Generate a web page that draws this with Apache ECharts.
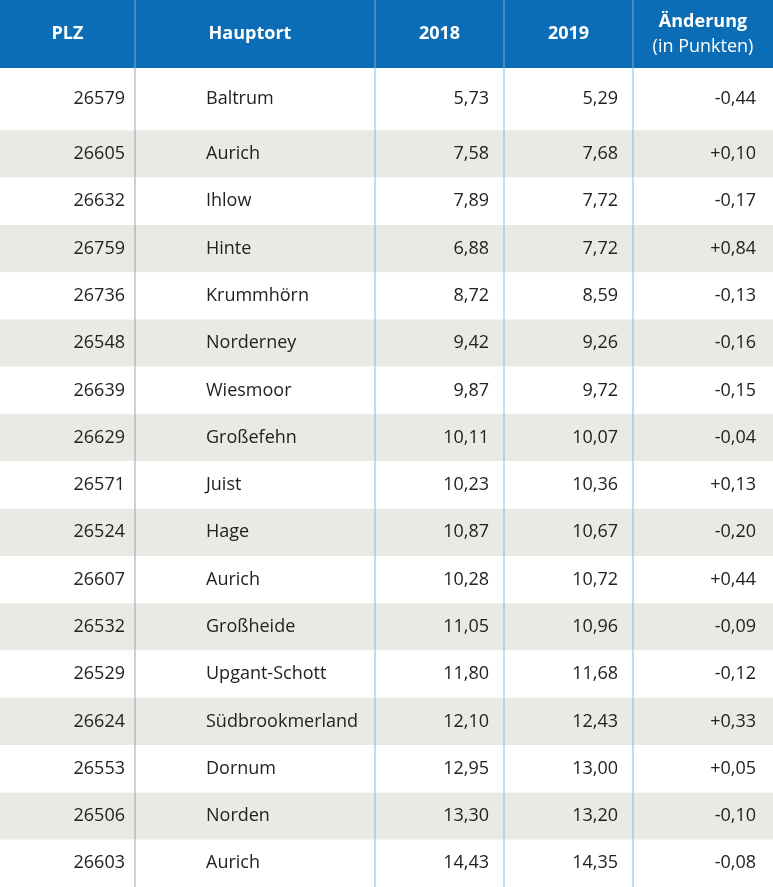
<!DOCTYPE html>
<html>
<head>
<meta charset="utf-8" />
<title>PLZ Tabelle</title>
<script src="https://cdn.jsdelivr.net/npm/echarts@6/dist/echarts.min.js"></script>
<style>
  html, body { margin: 0; padding: 0; background: #fff; }
  #main { width: 773px; height: 887px; }
</style>
</head>
<body>
<div id="main"></div>
<script>
var headers = ['PLZ', 'Hauptort', '2018', '2019', 'Änderung\n(in Punkten)'];
var plz = ['26579','26605','26632','26759','26736','26548','26639','26629','26571','26524','26607','26532','26529','26624','26553','26506','26603'];
var orte = ['Baltrum','Aurich','Ihlow','Hinte','Krummhörn','Norderney','Wiesmoor','Großefehn','Juist','Hage','Aurich','Großheide','Upgant-Schott','Südbrookmerland','Dornum','Norden','Aurich'];
var werte2018 = ['5,73','7,58','7,89','6,88','8,72','9,42','9,87','10,11','10,23','10,87','10,28','11,05','11,80','12,10','12,95','13,30','14,43'];
var werte2019 = ['5,29','7,68','7,72','7,72','8,59','9,26','9,72','10,07','10,36','10,67','10,72','10,96','11,68','12,43','13,00','13,20','14,35'];
var aenderung = ['-0,44','+0,10','-0,17','+0,84','-0,13','-0,16','-0,15','-0,04','+0,13','-0,20','+0,44','-0,09','-0,12','+0,33','+0,05','-0,10','-0,08'];

// Spaltengrenzen
var cols = [0, 135, 375, 504, 633, 773];
var headerH = 68;
var font = '"Open Sans", "Noto Sans", sans-serif';

var chart = echarts.init(document.getElementById('main'));

var rows = plz.map(function (p, i) { return i; });

var headerGraphics = [{
  type: 'rect', shape: { x: 0, y: 0, width: 773, height: headerH },
  style: { fill: '#0a6db5' }
}];
for (var c = 1; c < 5; c++) {
  headerGraphics.push({
    type: 'line', shape: { x1: cols[c], y1: 0, x2: cols[c], y2: headerH },
    style: { stroke: 'rgba(255,255,255,0.45)', lineWidth: 1 }
  });
}
headers.forEach(function (h, c) {
  var two = h.indexOf('\n') >= 0;
  headerGraphics.push({
    type: 'text',
    x: (cols[c] + cols[c + 1]) / 2 + (c === 1 ? -5 : 0), y: headerH / 2,
    style: {
      text: h, fill: '#fff', font: (two ? '' : 'bold ') + '18px ' + font,
      align: 'center', verticalAlign: 'middle', lineHeight: 25,
      rich: {}
    }
  });
});
// "Änderung" fett, zweite Zeile normal
headerGraphics[headerGraphics.length - 1].style = {
  text: '{b|Änderung}\n{n|(in Punkten)}', fill: '#fff',
  align: 'center', verticalAlign: 'middle',
  rich: {
    b: { fontFamily: font, fontWeight: 'bold', fontSize: 18, color: '#fff', lineHeight: 25 },
    n: { fontFamily: font, fontSize: 18, color: '#fff', lineHeight: 25 }
  }
};

var option = {
  animation: false,
  grid: { left: 0, right: 0, top: 83, bottom: 0 },
  xAxis: { type: 'value', min: 0, max: 773, show: false },
  yAxis: { type: 'category', inverse: true, data: rows, show: false },
  graphic: headerGraphics,
  series: [{
    type: 'custom',
    data: rows,
    renderItem: function (params, api) {
      var i = api.value(0);
      var center = api.coord([0, i]);
      var h = api.size([0, 1])[1];
      var top = center[1] - h / 2;
      var bottom = center[1] + h / 2;
      if (i === 0) { top = headerH; }
      var cy = (top + bottom) / 2;
      var txt = { fill: '#222', font: '18px ' + font, verticalAlign: 'middle' };
      function t(x, s, align) {
        return { type: 'text', x: x, y: cy, style: Object.assign({ text: s, align: align }, txt) };
      }
      var children = [{
        type: 'rect', shape: { x: 0, y: top, width: 773, height: bottom - top },
        style: { fill: i % 2 === 1 ? '#ebe9e3' : '#ffffff' }
      }];
      [135, 375, 504, 633].forEach(function (x, k) {
        children.push({
          type: 'line', shape: { x1: x, y1: top, x2: x, y2: bottom },
          style: { stroke: k === 0 ? '#8aa5bd' : '#6cc3e8', lineWidth: 1 }
        });
      });
      children.push(t(125, plz[i], 'right'));
      children.push(t(206, orte[i], 'left'));
      children.push(t(489, werte2018[i], 'right'));
      children.push(t(618, werte2019[i], 'right'));
      children.push(t(756, aenderung[i], 'right'));
      return { type: 'group', children: children };
    }
  }]
};
chart.setOption(option);
</script>
</body>
</html>
